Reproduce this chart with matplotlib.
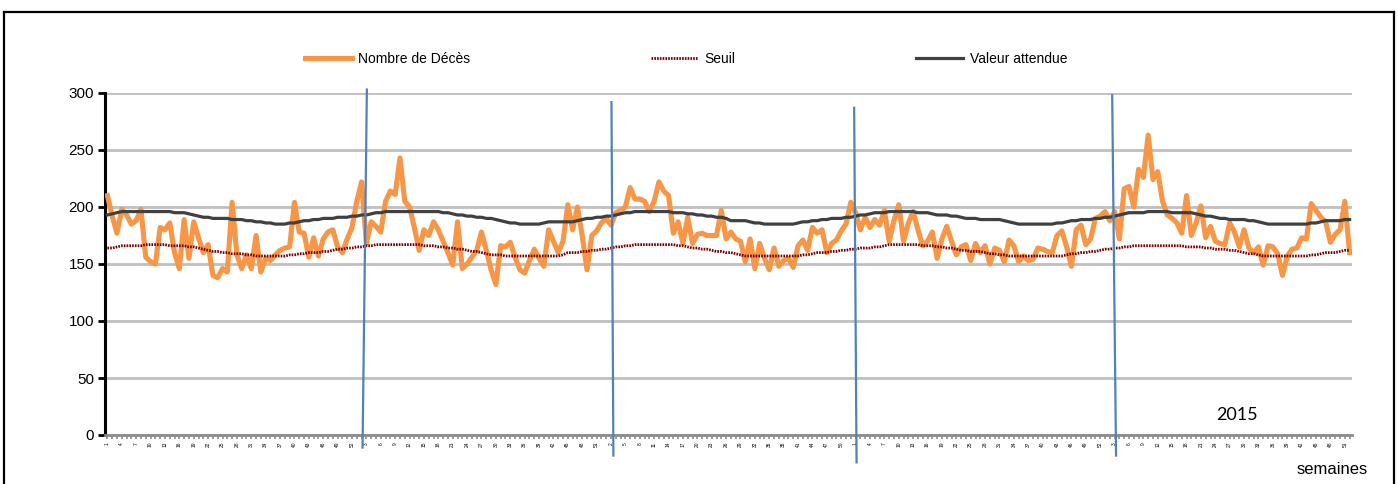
import numpy as np
import matplotlib
matplotlib.use("Agg")
import matplotlib.pyplot as plt
from matplotlib.lines import Line2D

plt.rcParams['font.family'] = ['Liberation Sans', 'DejaVu Sans']

# weekly deaths, 260 weeks
deces = [
    210, 192, 177, 198, 193, 185, 188, 198, 156, 152,
    150, 182, 180, 186, 160, 146, 189, 155, 187, 173,
    160, 167, 140, 138, 146, 143, 204, 158, 146, 158,
    146, 175, 143, 155, 153, 158, 162, 164, 165, 204,
    178, 177, 156, 173, 157, 172, 178, 180, 165, 160,
    172, 182, 205, 222, 168, 187, 183, 178, 205, 214,
    211, 243, 205, 200, 182, 162, 180, 175, 187, 180,
    170, 160, 149, 187, 146, 150, 156, 162, 178, 162,
    145, 132, 166, 165, 169, 156, 145, 142, 153, 163,
    155, 148, 180, 170, 160, 170, 202, 180, 200, 175,
    145, 175, 179, 186, 190, 184, 195, 197, 200, 217,
    207, 207, 205, 196, 205, 222, 214, 210, 177, 187,
    168, 191, 168, 176, 177, 175, 175, 175, 197, 172,
    178, 172, 170, 152, 172, 146, 168, 155, 145, 164,
    148, 153, 155, 147, 166, 171, 162, 182, 177, 180,
    160, 168, 171, 179, 185, 204, 195, 180, 191, 182,
    189, 184, 197, 170, 188, 202, 170, 186, 196, 180,
    166, 170, 178, 155, 172, 183, 170, 158, 165, 167,
    153, 168, 160, 166, 150, 164, 162, 152, 171, 166,
    152, 157, 153, 154, 164, 163, 161, 160, 175, 179,
    165, 148, 180, 184, 167, 172, 190, 192, 196, 188,
    196, 172, 216, 218, 200, 233, 226, 263, 224, 231,
    205, 193, 190, 186, 177, 210, 175, 186, 201, 173,
    183, 170, 168, 167, 186, 178, 165, 180, 164, 160,
    165, 149, 166, 165, 159, 140, 157, 163, 164, 173,
    172, 203, 197, 191, 187, 169, 176, 180, 205, 160,
]

seuil = [
    164, 164, 165, 166, 166, 166, 166, 166, 167, 167,
    167, 167, 167, 166, 166, 166, 166, 165, 165, 164,
    163, 162, 161, 161, 160, 160, 159, 159, 159, 158,
    158, 157, 157, 157, 157, 157, 157, 157, 158, 158,
    159, 159, 160, 160, 160, 161, 161, 162, 163, 163,
    164, 164, 165, 165, 166, 166, 167, 167, 167, 167,
    167, 167, 167, 167, 167, 167, 166, 166, 166, 165,
    165, 164, 164, 163, 163, 162, 161, 161, 160, 159,
    158, 158, 158, 157, 157, 157, 157, 157, 157, 157,
    157, 157, 157, 157, 157, 158, 160, 160, 160, 161,
    161, 162, 162, 163, 163, 164, 165, 165, 166, 166,
    167, 167, 167, 167, 167, 167, 167, 167, 167, 166,
    166, 165, 164, 164, 163, 163, 162, 161, 161, 160,
    160, 159, 158, 157, 157, 157, 157, 157, 157, 157,
    157, 157, 157, 157, 157, 158, 158, 159, 160, 160,
    160, 161, 161, 162, 162, 163, 163, 164, 164, 164,
    165, 165, 166, 167, 167, 167, 167, 167, 167, 167,
    166, 166, 166, 165, 165, 164, 164, 163, 162, 162,
    161, 161, 161, 160, 159, 159, 158, 158, 157, 157,
    157, 157, 157, 157, 157, 157, 157, 157, 157, 157,
    158, 159, 159, 160, 160, 161, 161, 162, 163, 163,
    164, 164, 165, 165, 166, 166, 166, 166, 166, 166,
    166, 166, 166, 166, 166, 165, 165, 165, 165, 164,
    164, 163, 163, 163, 162, 162, 161, 160, 159, 159,
    158, 157, 157, 157, 157, 157, 157, 157, 157, 157,
    157, 158, 158, 159, 160, 160, 160, 161, 162, 162,
]

attendu = [
    193, 194, 195, 196, 196, 196, 196, 196, 196, 196,
    196, 196, 196, 196, 195, 195, 195, 194, 193, 192,
    191, 191, 190, 190, 190, 190, 189, 189, 189, 188,
    188, 187, 187, 186, 186, 185, 185, 185, 186, 186,
    187, 188, 188, 189, 189, 190, 190, 190, 191, 191,
    191, 192, 192, 193, 193, 194, 195, 195, 196, 196,
    196, 196, 196, 196, 196, 196, 196, 196, 196, 196,
    195, 195, 194, 193, 193, 192, 192, 191, 191, 190,
    190, 189, 188, 187, 186, 186, 185, 185, 185, 185,
    185, 186, 187, 187, 187, 187, 187, 187, 188, 189,
    190, 190, 191, 191, 192, 192, 193, 194, 195, 195,
    196, 196, 196, 196, 196, 196, 196, 196, 195, 195,
    195, 194, 194, 193, 193, 192, 192, 191, 191, 190,
    188, 188, 188, 188, 187, 186, 186, 185, 185, 185,
    185, 185, 185, 185, 186, 187, 187, 188, 188, 189,
    189, 190, 190, 190, 191, 191, 192, 193, 193, 194,
    195, 195, 195, 196, 196, 196, 196, 196, 196, 195,
    195, 195, 194, 193, 193, 193, 192, 192, 191, 190,
    190, 190, 189, 189, 189, 189, 189, 188, 187, 186,
    185, 185, 185, 185, 185, 185, 185, 185, 186, 186,
    187, 188, 188, 189, 189, 189, 190, 190, 191, 191,
    192, 193, 194, 195, 195, 195, 195, 196, 196, 196,
    196, 196, 195, 195, 195, 195, 195, 194, 193, 192,
    192, 191, 190, 190, 189, 189, 189, 189, 188, 188,
    187, 186, 185, 185, 185, 185, 185, 185, 185, 185,
    185, 186, 186, 187, 188, 188, 188, 188, 189, 189,
]

# hand-drawn year separators (week index, value) top / bottom
separateurs = [
    ((54.1, 303), (53.2, -11)),
    ((105.1, 292), (105.5, -18)),
    ((155.7, 287), (156.2, -24)),
    ((209.5, 298), (210.3, -18)),
]

n = len(deces)
x = np.arange(n)
semaines = [str(i % 52 + 1) for i in range(n)]

W, H = 1398, 484
fig = plt.figure(figsize=(W / 100, H / 100), dpi=100)
ax = fig.add_axes([105 / W, 1 - 435 / H, 1247 / W, 342 / H])

ax.plot(x, deces, color='#F79646', lw=3.7, label='Nombre de Décès', zorder=3)
ax.plot(x, seuil, color='#7B0000', lw=2.0, ls=(0, (0.6, 0.4)), label='Seuil', zorder=4)
ax.plot(x, attendu, color='#404040', lw=2.3, label='Valeur attendue', zorder=4)

for (x0, y0), (x1, y1) in separateurs:
    ax.plot([x0, x1], [y0, y1], color='#4F81BD', lw=1.6, clip_on=False, zorder=5)

ax.set_xlim(-0.5, n - 0.5)
ax.set_ylim(0, 300)
ax.set_yticks(range(0, 301, 50))
ax.yaxis.grid(True, color='#BFBFBF', lw=2)
ax.set_axisbelow(True)

for s in ['top', 'right']:
    ax.spines[s].set_visible(False)
ax.spines['left'].set_color('black')
ax.spines['left'].set_linewidth(2.2)
ax.spines['bottom'].set_color('#8C8C8C')
ax.spines['bottom'].set_linewidth(2)
ax.tick_params(axis='y', direction='out', length=5, width=2, color='black',
               labelsize=11, pad=3)

ax.set_xticks(x)
ax.set_xticklabels([s if i % 3 == 0 else '' for i, s in enumerate(semaines)],
                   rotation=90, fontsize=3.5)
ax.tick_params(axis='x', direction='out', length=3, width=1.2, color='#8C8C8C', pad=2)

fig.text(1368 / W, 1 - 469 / H, 'semaines', ha='right', va='center', fontsize=12)
fig.text(1237 / W, 1 - 415 / H, '2015', ha='center', va='center', fontsize=13,
         family=['Lato', 'DejaVu Sans'])

ax.legend(loc='center', bbox_to_anchor=(686 / W, 1 - 59 / H),
          bbox_transform=fig.transFigure, ncol=3, frameon=False, fontsize=10,
          handlelength=3.4, handletextpad=0.45, columnspacing=13)

# outer frame of the original screenshot
fig.add_artist(Line2D([4 / W, 4 / W], [0, 1 - 12 / H], color='black', lw=1.6))
fig.add_artist(Line2D([1394 / W, 1394 / W], [0, 1 - 12 / H], color='black', lw=1.6))
fig.add_artist(Line2D([4 / W, 1394 / W], [1 - 12 / H, 1 - 12 / H], color='black', lw=1.6))

fig.savefig('out.png', dpi=100)
